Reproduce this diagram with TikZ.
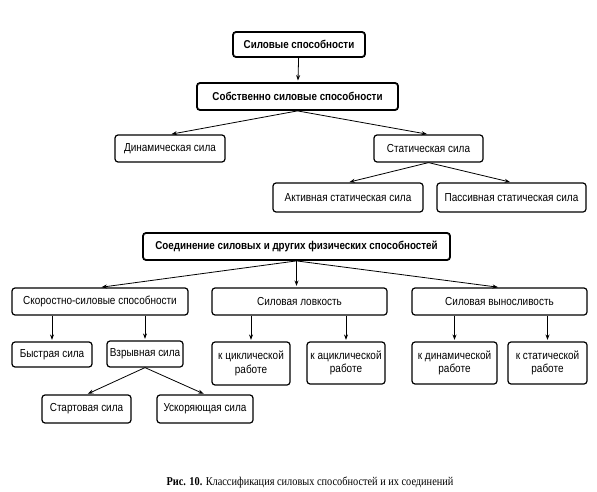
\documentclass[tikz,border=0pt]{standalone}
\usepackage{fontspec}
\setmainfont[FakeStretch=0.86]{Liberation Sans}
\newfontfamily\capfont[FakeStretch=0.86]{Liberation Serif}
\usetikzlibrary{arrows.meta}
\begin{document}
\begin{tikzpicture}[x=1pt,y=-1pt,
  box/.style={draw, rounded corners=3pt, line width=1.2pt, inner sep=0pt, align=center,
    font=\fontsize{11.6}{13.5}\selectfont},
  mainbox/.style={box, line width=1.8pt, font=\bfseries\fontsize{11.4}{13}\selectfont},
  arr/.style={-{Stealth[length=5.5pt,width=4pt]}, line width=0.8pt, shorten >=1.5pt}]
\useasboundingbox (0,0) rectangle (597,492);

\node[mainbox, minimum width=132, minimum height=25] (top) at (299,44.5) {Силовые способности};
\node[mainbox, minimum width=201, minimum height=27] (b2) at (297.5,96.5) {Собственно силовые способности};
\node[box, minimum width=110, minimum height=27] (dyn) at (170,148.5) {Динамическая сила};
\node[box, minimum width=109, minimum height=27] (stat) at (428.5,148.5) {Статическая сила};
\node[box, minimum width=150, minimum height=29] (akt) at (348,197.5) {Активная статическая сила};
\node[box, minimum width=149, minimum height=29] (pas) at (511.5,197.5) {Пассивная статическая сила};

\node[mainbox, minimum width=307, minimum height=27] (soed) at (296.5,246.5) {Соединение силовых и других физических способностей};
\node[box, minimum width=176, minimum height=27] (skor) at (100,301.5) {Скоростно-силовые способности};
\node[box, minimum width=175, minimum height=27] (lovk) at (299.5,301.5) {Силовая ловкость};
\node[box, minimum width=175, minimum height=27] (vyn) at (499.5,301.5) {Силовая выносливость};

\node[box, minimum width=80, minimum height=25] (bys) at (52,354.5) {Быстрая сила};
\node[box, minimum width=76, minimum height=26] (vzr) at (145,354) {Взрывная сила};
\node[box, minimum width=78, minimum height=43] (cyc) at (251,363.5) {к циклической\\работе};
\node[box, minimum width=78, minimum height=42] (acyc) at (346,363) {к ациклической\\работе};
\node[box, minimum width=85, minimum height=42] (din) at (454.5,363) {к динамической\\работе};
\node[box, minimum width=79, minimum height=42] (st) at (547.5,363) {к статической\\работе};
\node[box, minimum width=89, minimum height=28] (start) at (86.5,409) {Стартовая сила};
\node[box, minimum width=96, minimum height=28] (usk) at (205,409) {Ускоряющая сила};

\draw[arr] (top) -- (b2);
\draw[arr] (b2.south) -- (dyn.north);
\draw[arr] (b2.south) -- (stat.north);
\draw[arr] (stat.south) -- (akt.north);
\draw[arr] (stat.south) -- (pas.north);

\draw[arr] (soed.south) -- (skor.north);
\draw[arr] (soed.south) -- (lovk.north -| soed.south);
\draw[arr] (soed.south) -- (vyn.north);

\draw[arr] (bys.north |- skor.south) -- (bys.north);
\draw[arr] (vzr.north |- skor.south) -- (vzr.north);
\draw[arr] (cyc.north |- lovk.south) -- (cyc.north);
\draw[arr] (acyc.north |- lovk.south) -- (acyc.north);
\draw[arr] (din.north |- vyn.south) -- (din.north);
\draw[arr] (st.north |- vyn.south) -- (st.north);
\draw[arr] (vzr.south) -- (start.north);
\draw[arr] (vzr.south) -- (usk.north);

\node[font=\capfont\fontsize{12}{14}\selectfont] (cap) at (310,482)
  {\textbf{Рис. 10.} Классификация силовых способностей и их соединений};
\end{tikzpicture}
\end{document}
